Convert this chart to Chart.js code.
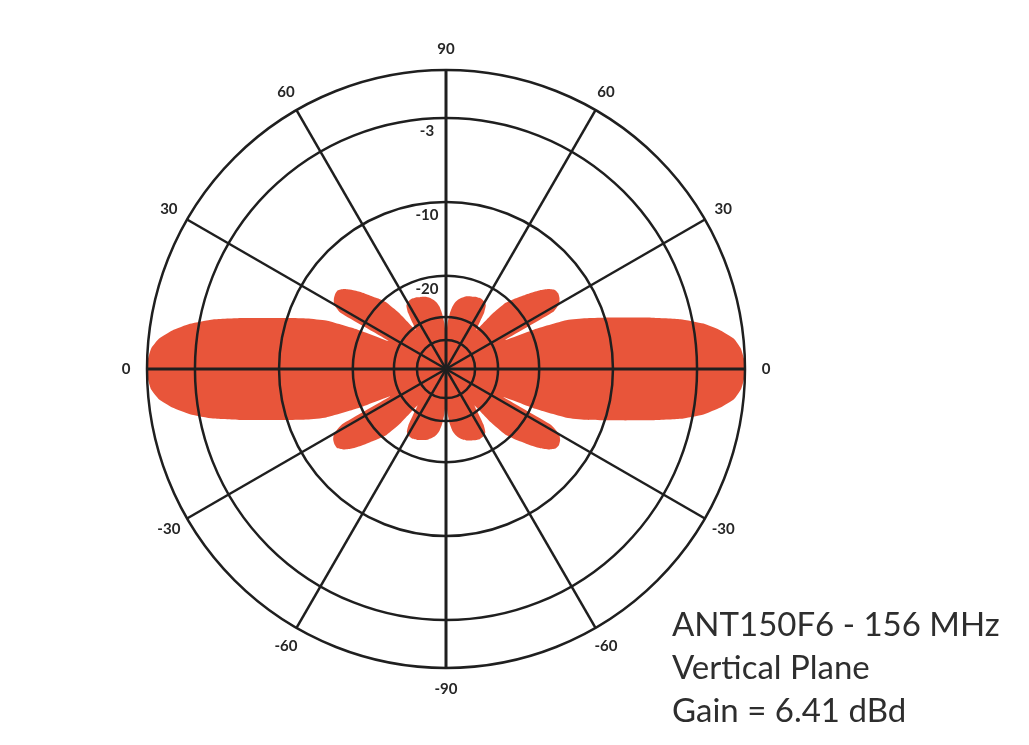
<!DOCTYPE html>
<html>
<head>
<meta charset="utf-8">
<title>ANT150F6 - 156 MHz Vertical Plane</title>
<script src="https://cdn.jsdelivr.net/npm/chart.js@4/dist/chart.umd.min.js"></script>
<style>
  html, body { margin: 0; padding: 0; background: #ffffff; }
  #wrap { position: relative; width: 1029px; height: 745px; }
</style>
</head>
<body>
<div id="wrap"><canvas id="pattern" width="1029" height="745"></canvas></div>
<script>
// Angular sampling of the pattern, degrees
const STEP_DEG = 2;

// Spoke labels every 30 degrees, clockwise from the top (elevation angles)
const angleTickLabels = ['90', '60', '30', '0', '-30', '-60', '-90', '-60', '-30', '0', '30', '60'];

// Gain rings in dB (ARRL log scale) and the labels printed under them
const ringLevels = [-40, -30, -20, -10, -3, 0];
const ringLabels = ['', '', '-20', '-10', '-3', ''];

// Relative gain in dB, elevation 0..90 deg in 2 deg steps, one list per quadrant
const gainUpperRight = [0, -0.05, -0.2, -0.55, -1.3, -2.3, -3.8, -5.9, -8.1, -10.1,
  -12.0, -14.2, -19.0, -26.0, -15.5, -14.2, -13.8, -13.6, -13.7, -14.3,
  -15.3, -16.6, -18.0, -19.3, -20.8, -24.5, -31.0, -28.5, -25.3, -23.7,
  -23.2, -23.0, -22.9, -23.0, -23.1, -23.3, -23.4, -23.6, -23.9, -24.3,
  -24.8, -25.5, -26.7, -28.7, -32.0, -38.0];
const gainLowerRight = [0, -0.05, -0.2, -0.55, -1.3, -2.3, -3.8, -5.9, -8.1, -10.1,
  -12.0, -14.3, -19.2, -26.5, -15.8, -14.2, -13.7, -13.5, -13.6, -14.2,
  -15.2, -16.5, -18.0, -19.4, -21.0, -25.0, -32.0, -29.0, -25.6, -23.9,
  -23.4, -23.2, -23.1, -23.2, -23.3, -23.5, -23.7, -23.9, -24.2, -24.6,
  -25.1, -25.8, -26.9, -28.9, -32.5, -38.0];
const gainUpperLeft = [0, -0.05, -0.2, -0.6, -1.35, -2.4, -3.9, -6.0, -8.2, -10.2,
  -12.1, -14.4, -19.3, -26.5, -15.8, -14.4, -14.0, -13.8, -13.8, -14.3,
  -15.2, -16.4, -17.8, -19.1, -20.6, -24.2, -31.0, -28.5, -25.4, -23.8,
  -23.3, -23.1, -23.0, -23.1, -23.2, -23.4, -23.5, -23.7, -24.0, -24.4,
  -24.9, -25.6, -26.8, -28.9, -32.2, -38.0];
const gainLowerLeft = [0, -0.05, -0.2, -0.6, -1.35, -2.4, -3.9, -6.0, -8.2, -10.2,
  -12.1, -14.4, -19.4, -27.0, -16.0, -14.4, -13.9, -13.7, -13.7, -14.2,
  -15.1, -16.4, -17.9, -19.3, -20.9, -24.8, -32.0, -29.0, -25.7, -24.0,
  -23.5, -23.3, -23.2, -23.3, -23.4, -23.6, -23.8, -24.0, -24.3, -24.7,
  -25.2, -25.9, -27.0, -29.1, -32.6, -38.0];

// Caption block
const captionLines = ['ANT150F6 - 156 MHz', 'Vertical Plane', 'Gain = 6.41 dBd'];

// ---- build the radar table: index k sits at 2k degrees clockwise from the top ----
const pointCount = 360 / STEP_DEG;          // 180
const spokeEvery = 30 / STEP_DEG;           // 15
const quarter = 90 / STEP_DEG;              // 45
const labels = [];
const gains = [];
for (let k = 0; k < pointCount; k++) {
  labels.push(k % spokeEvery === 0 ? angleTickLabels[k / spokeEvery] : '');
  let g;
  if (k <= quarter) g = gainUpperRight[quarter - k];            // right side, 90 -> 0
  else if (k <= 2 * quarter) g = gainLowerRight[k - quarter];   // right side, 0 -> -90
  else if (k <= 3 * quarter) g = gainLowerLeft[3 * quarter - k];// left side, -90 -> 0
  else g = gainUpperLeft[k - 3 * quarter];                      // left side, 0 -> 90
  gains.push(g);
}

// Radial scale on the ARRL log-periodic law: radius shrinks by 0.89 for every 2 dB
class ArrlRadialScale extends Chart.RadialLinearScale {
  getDistanceFromCenterForValue(value) {
    if (value === null || value === undefined || isNaN(value)) return NaN;
    return this.drawingArea * Math.pow(0.89, -value / 2);
  }
  getValueForDistanceFromCenter(distance) {
    return -2 * Math.log(distance / this.drawingArea) / Math.log(0.89);
  }
  drawLabels() {
    const ctx = this.ctx;
    ctx.save();
    ctx.fillStyle = '#262626';
    ctx.font = 'bold 15px Lato, "Liberation Sans", sans-serif';
    ctx.textAlign = 'center';
    ctx.textBaseline = 'middle';
    // dB labels just inside each ring, left of the vertical axis
    this.ticks.forEach((tick) => {
      if (!tick.label) return;
      const r = this.getDistanceFromCenterForValue(tick.value);
      ctx.fillText(tick.label, this.xCenter - 19, this.yCenter - r + 13);
    });
    // elevation labels outside the outer ring
    this._pointLabels.forEach((lab, i) => {
      if (!lab) return;
      const p = this.getPointPosition(i, this.drawingArea + 21);
      ctx.fillText(lab, p.x, p.y);
    });
    ctx.restore();
  }
}
ArrlRadialScale.id = 'arrlRadial';
Chart.register(ArrlRadialScale);

const captionPlugin = {
  id: 'caption',
  afterDraw(chart) {
    const ctx = chart.ctx;
    ctx.save();
    ctx.fillStyle = '#2e2e2e';
    ctx.font = '33px Lato, "Liberation Sans", sans-serif';
    ctx.textAlign = 'left';
    ctx.textBaseline = 'alphabetic';
    captionLines.forEach((line, i) => ctx.fillText(line, 672, 636 + i * 43));
    ctx.restore();
  }
};

new Chart(document.getElementById('pattern'), {
  type: 'radar',
  data: {
    labels: labels,
    datasets: [{
      data: gains,
      backgroundColor: '#e8553a',
      borderColor: 'rgba(0,0,0,0)',
      borderWidth: 0,
      fill: 'start',
      pointRadius: 0,
      tension: 0.15
    }]
  },
  options: {
    responsive: false,
    animation: false,
    events: [],
    layout: { padding: { left: 147, top: 70, right: 284, bottom: 77 } },
    plugins: { legend: { display: false }, tooltip: { enabled: false } },
    scales: {
      r: {
        type: 'arrlRadial',
        min: -200,
        max: 0,
        startAngle: 0,
        grid: { circular: true, color: '#1f1f1f', lineWidth: 2.5, z: 1 },
        angleLines: {
          display: true,
          color: '#1f1f1f',
          lineWidth: (c) => (c.label ? (c.index % (spokeEvery * 3) === 0 ? 3 : 2.5) : 0)
        },
        pointLabels: { display: false },
        ticks: {
          display: false,
          z: 1,
          callback: (value) => {
            const i = ringLevels.indexOf(value);
            return i >= 0 ? ringLabels[i] : '';
          }
        },
        afterBuildTicks: (scale) => {
          scale.ticks = ringLevels.map((v) => ({ value: v }));
        }
      }
    }
  },
  plugins: [captionPlugin]
});
</script>
</body>
</html>
